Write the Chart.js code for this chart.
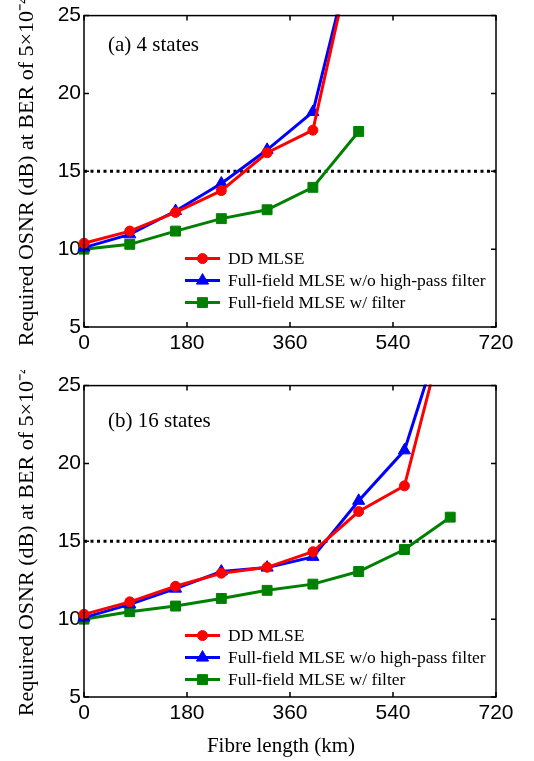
<!DOCTYPE html>
<html>
<head>
    <title>Required OSNR vs fibre length</title>
    <script src="https://cdn.jsdelivr.net/npm/chart.js"></script>
    <style>
        body {
            margin: 0;
            padding: 0;
            background-color: #fff;
        }
        .wrap {
            position: relative;
            width: 534px;
            height: 761px;
        }
        canvas {
            position: absolute;
            left: 0;
        }
        #chartA { top: 0; }
        #chartB { top: 370px; }
    </style>
</head>
<body>

<div class="wrap">
    <canvas id="chartA" width="534" height="370"></canvas>
    <canvas id="chartB" width="534" height="391"></canvas>
</div>

<script>
    // fibre length (km)
    const lengthsA = [0, 80, 160, 240, 320, 400, 480];
    const lengthsB = [0, 80, 160, 240, 320, 400, 480, 560, 640];
    const xTicks = [0, 180, 360, 540, 720];
    const yTicks = [5, 10, 15, 20, 25];
    const thresholdOSNR = 15;

    // (a) 4 states
    const ddA      = [10.38, 11.16, 12.36, 13.76, 16.19, 17.64, 30.8];
    const ffNoHpA  = [10.1, 10.95, 12.45, 14.22, 16.38, 18.81, 30.7];
    const ffFiltA  = [10.0, 10.31, 11.16, 11.96, 12.53, 13.97, 17.56];

    // (b) 16 states
    const ddB      = [10.31, 11.11, 12.11, 12.95, 13.33, 14.33, 16.91, 18.56, 30.0];
    const ffNoHpB  = [10.1, 10.95, 11.96, 13.06, 13.31, 14.0, 17.6, 20.84, 30.1];
    const ffFiltB  = [10.0, 10.48, 10.84, 11.33, 11.85, 12.25, 13.06, 14.47, 16.55];

    const seriesNames = ['DD MLSE', 'Full-field MLSE w/o high-pass filter', 'Full-field MLSE w/ filter'];

    Chart.defaults.color = '#000';

    const toPoints = (xs, ys) => xs.map((x, i) => ({x: x, y: ys[i]}));

    function makeDatasets(xs, dd, noHp, filt) {
        const clip = {left: 10, top: 1, right: 10, bottom: 10};
        return [
            {label: seriesNames[0], data: toPoints(xs, dd), borderColor: '#ff0000', backgroundColor: '#ff0000',
             borderWidth: 3, pointStyle: 'circle', pointRadius: 5, pointBorderWidth: 1, clip: clip},
            {label: seriesNames[1], data: toPoints(xs, noHp), borderColor: '#0000ff', backgroundColor: '#0000ff',
             borderWidth: 3, pointStyle: 'triangle', pointRadius: 7, pointBorderWidth: 1, clip: clip},
            {label: seriesNames[2], data: toPoints(xs, filt), borderColor: '#008000', backgroundColor: '#008000',
             borderWidth: 3, pointStyle: 'rect', pointRadius: 7, pointBorderWidth: 1, clip: clip},
            {label: 'threshold', data: [{x: 0, y: thresholdOSNR}, {x: 720, y: thresholdOSNR}],
             borderColor: '#000', borderWidth: 3, borderDash: [3, 3.5], pointRadius: 0}
        ];
    }

    // MATLAB-like box, inner ticks, panel label and legend
    const boxPlugin = {
        id: 'matlabBox',
        afterDraw(chart, args, opts) {
            const {ctx, chartArea: a, scales: {x, y}} = chart;
            ctx.save();
            ctx.strokeStyle = '#000';
            ctx.lineWidth = 1.5;
            ctx.strokeRect(a.left, a.top, a.right - a.left, a.bottom - a.top);
            ctx.beginPath();
            x.ticks.forEach(t => {
                const px = x.getPixelForValue(t.value);
                ctx.moveTo(px, a.bottom); ctx.lineTo(px, a.bottom - 5);
                ctx.moveTo(px, a.top); ctx.lineTo(px, a.top + 5);
            });
            y.ticks.forEach(t => {
                const py = y.getPixelForValue(t.value);
                ctx.moveTo(a.left, py); ctx.lineTo(a.left + 5, py);
                ctx.moveTo(a.right, py); ctx.lineTo(a.right - 5, py);
            });
            ctx.stroke();

            // panel label
            ctx.fillStyle = '#000';
            ctx.font = '21px "Liberation Serif"';
            ctx.textBaseline = 'middle';
            ctx.fillText(opts.label, a.left + 24, a.top + opts.labelY);

            // x axis title (only on lower panel)
            if (opts.xTitle) {
                ctx.textAlign = 'center';
                ctx.fillText(opts.xTitle, 281, a.bottom + 49);
                ctx.textAlign = 'left';
            }

            // legend
            ctx.font = '17.5px "Liberation Serif"';
            chart.data.datasets.slice(0, 3).forEach((ds, i) => {
                const ly = a.top + opts.legendY + i * 22;
                ctx.strokeStyle = ds.borderColor;
                ctx.fillStyle = ds.backgroundColor;
                ctx.lineWidth = 3;
                ctx.beginPath();
                ctx.moveTo(185, ly); ctx.lineTo(220, ly);
                ctx.stroke();
                ctx.lineWidth = 1;
                Chart.helpers.drawPoint(ctx, {pointStyle: ds.pointStyle, radius: ds.pointRadius, rotation: 0, borderWidth: 1}, 202.5, ly);
                ctx.fillStyle = '#000';
                ctx.fillText(ds.label, 228, ly + 1);
            });
            ctx.restore();
        }
    };

    function makeChart(id, xs, dd, noHp, filt, label, labelY, legendY, xHeight, xTitle) {
        const ctx = document.getElementById(id).getContext('2d');
        return new Chart(ctx, {
            type: 'line',
            data: {datasets: makeDatasets(xs, dd, noHp, filt)},
            options: {
                responsive: false,
                animation: false,
                devicePixelRatio: 1,
                layout: {padding: {top: 12, right: 38, left: 0, bottom: 0}},
                plugins: {
                    legend: {display: false},
                    tooltip: {enabled: false},
                    matlabBox: {label: label, labelY: labelY, legendY: legendY, xTitle: xTitle}
                },
                scales: {
                    x: {
                        type: 'linear',
                        min: 0, max: 720,
                        afterBuildTicks: s => { s.ticks = xTicks.map(v => ({value: v})); },
                        afterFit: s => { s.height = xHeight; },
                        grid: {display: false, drawTicks: false},
                        border: {display: false},
                        ticks: {padding: 4, font: {family: 'Liberation Sans', size: 21}, color: '#000'}
                    },
                    y: {
                        min: 5, max: 25,
                        afterBuildTicks: s => { s.ticks = yTicks.map(v => ({value: v})); },
                        afterFit: s => { s.width = 84; },
                        grid: {display: false, drawTicks: false},
                        border: {display: false},
                        ticks: {padding: 3, font: {family: 'Liberation Sans', size: 21}, color: '#000'},
                        title: {display: true, text: 'Required OSNR (dB) at BER of 5×10⁻⁴',
                                font: {family: 'Liberation Serif', size: 22}, padding: {top: 14, bottom: 0}}
                    }
                }
            },
            plugins: [boxPlugin]
        });
    }

    makeChart('chartA', lengthsA, ddA, ffNoHpA, ffFiltA, '(a) 4 states', 30, 243, 43, '');
    makeChart('chartB', lengthsB, ddB, ffNoHpB, ffFiltB, '(b) 16 states', 36, 250, 64, 'Fibre length (km)');
</script>

</body>
</html>
